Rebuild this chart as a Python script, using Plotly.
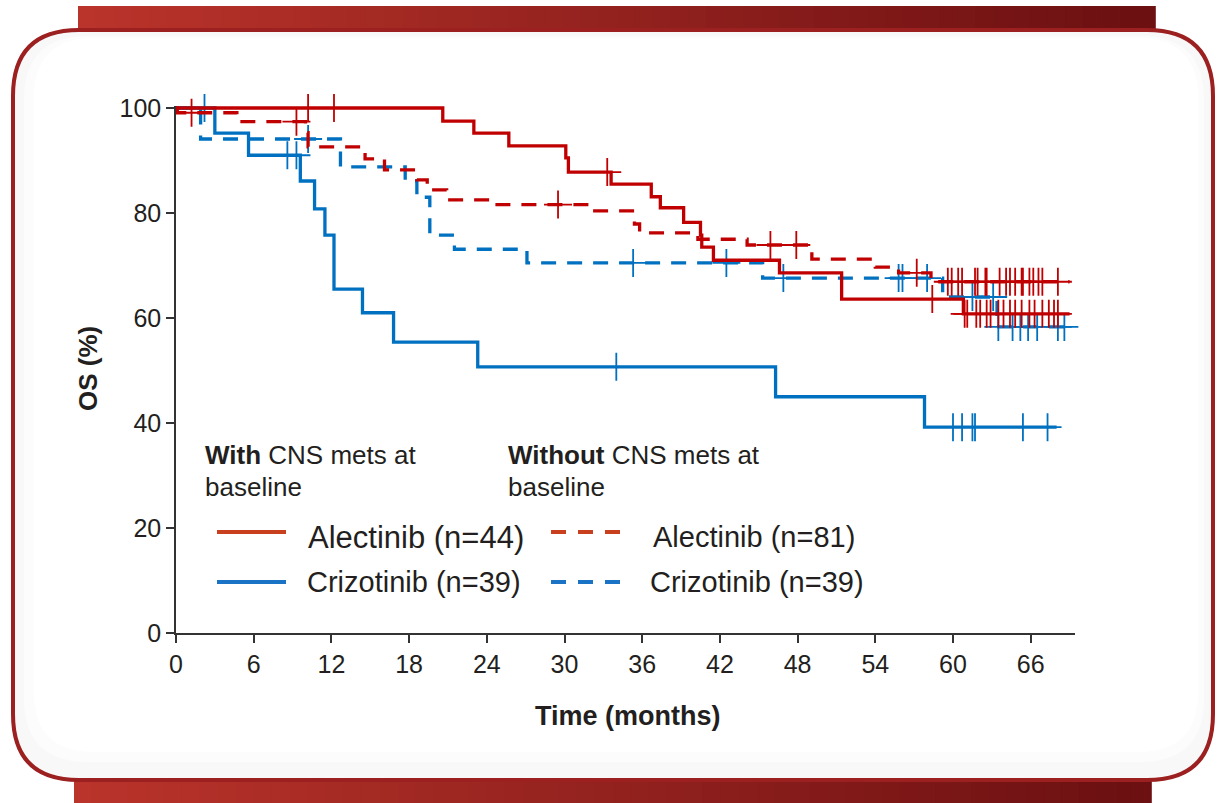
import plotly.graph_objects as go
import numpy as np

# ---------------- data ----------------
month_ticks = [0, 6, 12, 18, 24, 30, 36, 42, 48, 54, 60, 66]
os_ticks = [0, 20, 40, 60, 80, 100]

# Alectinib, with CNS mets at baseline (n=44)
alec_cns_t = [0, 20.6, 23.0, 25.7, 30.1, 30.3, 33.6, 36.7, 37.4, 39.2, 40.5, 40.6, 41.5, 46.6, 51.4, 60.8, 69.0]
alec_cns_s = [100, 97.5, 95.2, 92.8, 90.5, 87.8, 85.5, 83.1, 81.0, 78.2, 75.8, 73.5, 71.0, 68.6, 63.6, 60.8, 60.8]
alec_cns_cens = [10.2, 12.2, 33.3, 58.4, 60.9, 61.1, 61.8, 62.1, 62.6, 62.9, 63.5, 63.9, 64.4, 64.8,
                 65.3, 65.9, 66.3, 66.9, 67.4, 67.8, 68.1]

# Alectinib, without CNS mets at baseline (n=81)
alec_non_t = [0, 0.1, 4.7, 10.0, 10.2, 14.6, 16.1, 18.6, 19.4, 20.9, 24.6, 32.1, 35.4, 35.8, 40.3,
              44.1, 49.1, 54.0, 55.8, 58.3, 69.0]
alec_non_s = [100, 99.1, 97.4, 95.3, 92.6, 90.3, 88.2, 86.3, 84.4, 82.5, 81.6, 80.4, 77.9, 76.2, 75.0,
              73.9, 71.2, 69.7, 68.6, 66.9, 66.9]
alec_non_cens = [1.2, 9.3, 29.5, 45.9, 47.9, 57.2, 59.6, 59.9, 60.4, 60.7, 61.7, 61.9, 62.5, 62.6, 63.6,
                 64.1, 64.4, 64.8, 65.3, 65.4, 65.9, 66.2, 66.6, 66.9, 68.1]

# Crizotinib, with CNS mets at baseline (n=39)
criz_cns_t = [0, 3.0, 5.6, 9.6, 10.7, 11.5, 12.2, 14.4, 16.8, 23.3, 46.3, 57.8, 68.0]
criz_cns_s = [100, 95.2, 91.0, 86.1, 80.8, 75.8, 65.5, 61.0, 55.4, 50.7, 45.0, 39.2, 39.2]
criz_cns_cens = [2.2, 8.6, 9.3, 34.0, 60.0, 60.7, 61.5, 61.7, 65.4, 67.3]

# Crizotinib, without CNS mets at baseline (n=39)
criz_non_t = [0, 1.9, 12.7, 17.7, 18.6, 19.6, 21.5, 27.1, 45.3, 59.2, 63.4, 69.4]
criz_non_s = [100, 94.1, 88.8, 86.1, 83.0, 75.8, 73.1, 70.5, 67.6, 64.0, 58.3, 58.3]
criz_non_cens = [10.2, 35.3, 42.5, 46.9, 55.8, 56.1, 58.0, 61.5, 63.1, 63.5, 64.6, 65.2, 65.8, 66.5,
                 68.1, 68.6]

RED = "#C00000"
BLUE = "#0070C0"
LEG_RED = "#C8401E"
LEG_BLUE = "#1A73C4"
TXT = "#231F20"
FONT = "Liberation Sans, Arial, sans-serif"

# ---------------- geometry ----------------
W, H = 1217, 803
ML, MR, MT, MB = 176, 142, 106, 170
PW = W - ML - MR
PH = H - MT - MB
XMAX = PW / 12.95
YMAX = PH / 5.25


def px(x):
    return (x - ML) / PW


def py(y):
    return (H - MB - y) / PH


def step_value(ts, ss, c):
    i = np.searchsorted(np.array(ts), c, side="right") - 1
    return ss[max(i, 0)]


fig = go.Figure()

series = [
    (criz_non_t, criz_non_s, criz_non_cens, BLUE, "15px,11px"),
    (criz_cns_t, criz_cns_s, criz_cns_cens, BLUE, "solid"),
    (alec_non_t, alec_non_s, alec_non_cens, RED, "15px,11px"),
    (alec_cns_t, alec_cns_s, alec_cns_cens, RED, "solid"),
]

for ts, ss, cens, col, dash in series:
    fig.add_trace(go.Scatter(
        x=ts, y=ss, mode="lines", line=dict(color=col, width=3.3, dash=dash, shape="hv"),
        showlegend=False, hoverinfo="skip", cliponaxis=False))
    cy = [step_value(ts, ss, c) for c in cens]
    fig.add_trace(go.Scatter(
        x=cens, y=cy, mode="markers",
        marker=dict(symbol="cross-thin", size=20, line=dict(color=col, width=1.8)),
        showlegend=False, hoverinfo="skip", cliponaxis=False))

shapes = []

# top / bottom gradient bands
N = 60
x_a, x_b = 78, 1155
c0 = np.array([0xBA, 0x34, 0x2B])
c1 = np.array([0x6C, 0x10, 0x12])
for i in range(N):
    f = i / (N - 1)
    c = (c0 * (1 - f) + c1 * f).astype(int)
    col = "rgb(%d,%d,%d)" % tuple(c)
    xa = x_a + (x_b - x_a) * i / N
    xb = x_a + (x_b - x_a) * (i + 1) / N + 0.8
    shapes.append(dict(type="rect", xref="paper", yref="paper", layer="below",
                       x0=px(xa), x1=px(xb), y0=py(40), y1=py(6),
                       fillcolor=col, line=dict(width=0)))
    shapes.append(dict(type="rect", xref="paper", yref="paper", layer="below",
                       x0=px(xa - 4), x1=px(xb - 4), y0=py(803), y1=py(776),
                       fillcolor=col, line=dict(width=0)))


def rpath(x0, y0, x1, y1, r):
    pts = [
        ("M", px(x0 + r), py(y0)),
        ("L", px(x1 - r), py(y0)),
        ("Q", px(x1), py(y0), px(x1), py(y0 + r)),
        ("L", px(x1), py(y1 - r)),
        ("Q", px(x1), py(y1), px(x1 - r), py(y1)),
        ("L", px(x0 + r), py(y1)),
        ("Q", px(x0), py(y1), px(x0), py(y1 - r)),
        ("L", px(x0), py(y0 + r)),
        ("Q", px(x0), py(y0), px(x0 + r), py(y0)),
    ]
    s = ""
    for p in pts:
        s += p[0] + " " + " ".join("%.5f" % v for v in p[1:]) + " "
    return s + "Z"


# outer rounded frame
shapes.append(dict(type="path", xref="paper", yref="paper", layer="below",
                   path=rpath(13, 30, 1213, 780, 66),
                   fillcolor="#F8F8F8", line=dict(color="#9C2020", width=4)))
# inner soft shadow panel
shapes.append(dict(type="path", xref="paper", yref="paper", layer="below",
                   path=rpath(24, 36, 1204, 762, 64),
                   fillcolor="#FCFCFC", line=dict(width=0)))
shapes.append(dict(type="path", xref="paper", yref="paper", layer="below",
                   path=rpath(34, 38, 1198, 752, 60),
                   fillcolor="#FFFFFF", line=dict(width=0)))

# legend sample lines
for (xa, xb, yy, col, dash) in [
    (217, 286, 532, LEG_RED, "solid"),
    (551, 620, 532, LEG_RED, "15px,12px"),
    (217, 286, 582, LEG_BLUE, "solid"),
    (551, 620, 582, LEG_BLUE, "15px,12px"),
]:
    shapes.append(dict(type="line", xref="paper", yref="paper",
                       x0=px(xa), x1=px(xb), y0=py(yy), y1=py(yy),
                       line=dict(color=col, width=4, dash=dash)))

annotations = []


def txt(x, y, text, size, xanchor="left", bold=False, textangle=0):
    annotations.append(dict(
        xref="paper", yref="paper", x=px(x), y=py(y), text=("<b>%s</b>" % text) if bold else text,
        showarrow=False, xanchor=xanchor, yanchor="middle", textangle=textangle,
        font=dict(family=FONT, size=size, color=TXT)))


txt(203, 455, "<b>With</b> CNS mets at", 26)
txt(203, 487, "baseline", 26)
txt(506, 455, "<b>Without</b> CNS mets at", 26)
txt(506, 487, "baseline", 26)
txt(306, 537, "Alectinib (n=44)", 31)
txt(651, 537, "Alectinib (n=81)", 29)
txt(305, 582, "Crizotinib (n=39)", 29)
txt(648, 582, "Crizotinib (n=39)", 29)
txt(628, 716, "Time (months)", 27, xanchor="center", bold=True)
txt(88, 369, "OS (%)", 26, xanchor="center", bold=True, textangle=-90)

fig.update_layout(
    width=W, height=H,
    margin=dict(l=ML, r=MR, t=MT, b=MB, pad=0),
    paper_bgcolor="white", plot_bgcolor="rgba(0,0,0,0)",
    shapes=shapes, annotations=annotations,
    font=dict(family=FONT, color=TXT),
    xaxis=dict(range=[0, XMAX], tickvals=month_ticks, ticks="outside", ticklen=8, tickwidth=1.5,
               tickcolor="#333", showline=True, linecolor="#333", linewidth=1.5, showgrid=False,
               zeroline=False, tickfont=dict(size=25, family=FONT, color=TXT), fixedrange=True),
    yaxis=dict(range=[0, YMAX], tickvals=os_ticks, ticks="outside", ticklen=8, tickwidth=1.5,
               tickcolor="#333", showline=True, linecolor="#333", linewidth=1.5, showgrid=False,
               zeroline=False, tickfont=dict(size=25, family=FONT, color=TXT), fixedrange=True),
)

fig.write_html("out.html")
